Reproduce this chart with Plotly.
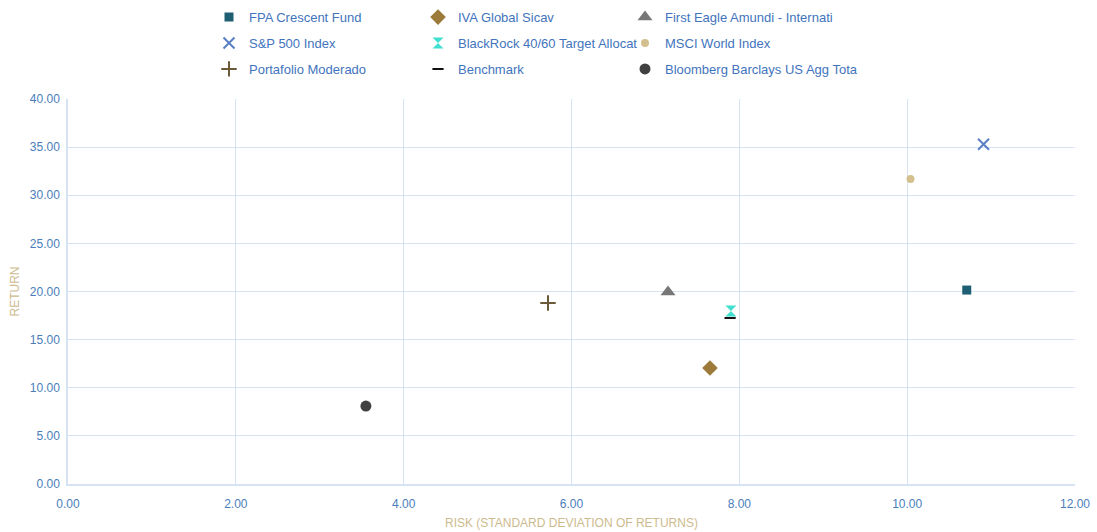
import plotly.graph_objects as go

names = ["FPA Crescent Fund", "S&P 500 Index", "Portafolio Moderado",
         "IVA Global Sicav", "BlackRock 40/60 Target Allocat", "Benchmark",
         "First Eagle Amundi - Internati", "MSCI World Index", "Bloomberg Barclays US Agg Tota"]
risk = [10.71, 10.91, 5.72, 7.65, 7.90, 7.89, 7.15, 10.04, 3.55]
ret = [20.15, 35.3, 18.8, 12.05, 17.97, 17.25, 19.95, 31.7, 8.1]
colors = ["#1f5f73", "#5b7fc4", "#6b5a3a", "#9c7b3a", "#40e0d0", "#111111",
          "#777777", "#d4c08e", "#404040"]
symbols = ["square", "x-thin-open", "cross-thin-open", "diamond", "hourglass",
           "line-ew-open", "triangle-up", "circle", "circle"]
sizes = [9, 11, 11, 12, 11, 8, 13, 8, 11]
legend_ids = ["legend", "legend", "legend", "legend2", "legend2", "legend2",
              "legend3", "legend3", "legend3"]

fig = go.Figure()
for i in range(len(names)):
    open_sym = symbols[i].endswith("open")
    fig.add_trace(go.Scatter(
        x=[risk[i]], y=[ret[i]], mode="markers", name=names[i],
        legend=legend_ids[i], legendgroup=names[i],
        marker=dict(symbol=symbols[i], size=sizes[i], color=colors[i],
                    line=dict(width=2 if open_sym else 0, color=colors[i])),
    ))

FONT = "Liberation Sans, Arial"
tick_font = dict(family=FONT, size=12, color="#4a7ebb")
title_font = dict(family=FONT, size=12, color="#cdbb8e")
grid = "#d6e3f5"

leg_common = dict(orientation="v", xref="container", yref="container",
                  xanchor="left", yanchor="top", y=0.996,
                  bgcolor="rgba(0,0,0,0)", tracegroupgap=6,
                  font=dict(family=FONT, size=13, color="#4274bd"))

fig.update_layout(
    width=1097, height=532,
    margin=dict(l=68, r=22, t=99, b=48, autoexpand=False),
    paper_bgcolor="white", plot_bgcolor="white",
    showlegend=True,
    legend=dict(x=209 / 1097, **leg_common),
    legend2=dict(x=418 / 1097, **leg_common),
    legend3=dict(x=625 / 1097, **leg_common),
    xaxis=dict(range=[0, 12], dtick=2, tickformat=".2f", showgrid=True,
               gridcolor=grid, gridwidth=1.2, zeroline=False, showline=True,
               linecolor=grid, linewidth=1.5, tickfont=tick_font, ticks="",
               ticklabelstandoff=8, automargin=False),
    yaxis=dict(range=[0, 40], dtick=5, tickformat=".2f", showgrid=True,
               gridcolor=grid, gridwidth=1.2, zeroline=False, showline=True,
               linecolor=grid, linewidth=1.5, tickfont=tick_font, ticks="",
               ticklabelstandoff=4, automargin=False),
    annotations=[
        dict(text="RISK (STANDARD DEVIATION OF RETURNS)", xref="paper", yref="paper",
             x=0.5, y=-0.0, yshift=-39, xanchor="center", yanchor="middle",
             showarrow=False, font=title_font),
        dict(text="RETURN", xref="paper", yref="paper", x=0, xshift=-54, y=0.5,
             xanchor="center", yanchor="middle", textangle=-90,
             showarrow=False, font=title_font),
    ],
)

fig.write_html("out.html")
